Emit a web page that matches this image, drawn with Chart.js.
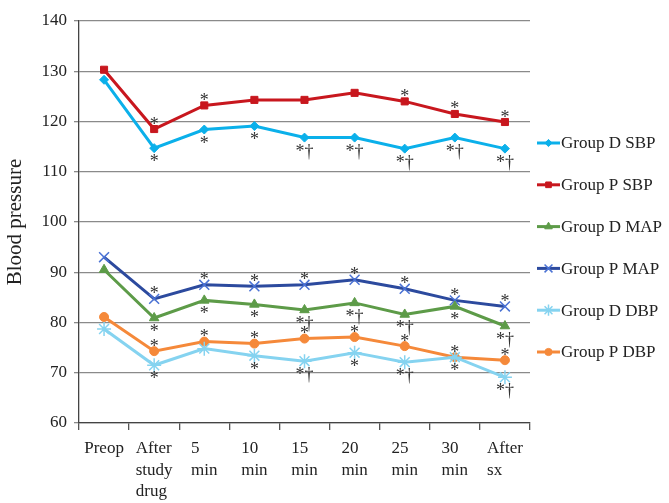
<!DOCTYPE html>
<html>
<head>
<meta charset="utf-8">
<script src="https://cdn.jsdelivr.net/npm/chart.js@4.4.1/dist/chart.umd.min.js"></script>
<style>
    html, body { margin: 0; padding: 0; background: #fff; }
    #wrap { width: 669px; height: 503px; }
</style>
</head>
<body>
<div id="wrap"><canvas id="bpChart"></canvas></div>
<script>
const categories = [
    ["Preop"],
    ["After", "study", "drug"],
    ["5", "min"],
    ["10", "min"],
    ["15", "min"],
    ["20", "min"],
    ["25", "min"],
    ["30", "min"],
    ["After", "sx"],
];

const yTicks = [60, 70, 80, 90, 100, 110, 120, 130, 140];

const groupDSBP = [128.3, 114.7, 118.4, 119.1, 116.8, 116.8, 114.6, 116.8, 114.6];
const groupPSBP = [130.3, 118.5, 123.2, 124.3, 124.3, 125.7, 124.0, 121.5, 119.9];
const groupDMAP = [90.5, 80.9, 84.4, 83.6, 82.5, 83.9, 81.6, 83.2, 79.3];
const groupPMAP = [93.0, 84.7, 87.5, 87.2, 87.5, 88.5, 86.7, 84.4, 83.2];
const groupDDBP = [78.7, 71.5, 74.8, 73.4, 72.3, 74.0, 72.1, 73.1, 69.1];
const groupPDBP = [81.1, 74.3, 76.2, 75.8, 76.8, 77.1, 75.3, 73.1, 72.5];

// significance marks per point
const marksDSBP = ["", "*", "*", "*", "*†", "*†", "*†", "*†", "*†"];
const marksPSBP = ["", "*", "*", "", "", "", "*", "*", "*"];
const marksDMAP = ["", "*", "*", "*", "*†", "*†", "*†", "*", "*†"];
const marksPMAP = ["", "*", "*", "*", "*", "*", "*", "*", "*"];
const marksDDBP = ["", "*", "", "*", "*†", "*", "*†", "*", "*†"];
const marksPDBP = ["", "*", "*", "*", "*", "*", "*", "*", "*"];

const serif = "'Liberation Serif', 'DejaVu Serif', serif";

function series(label, data, marks, side, line, marker, style, radius) {
    return {
        label: label,
        data: data,
        marks: marks,
        markSide: side,
        borderColor: line,
        backgroundColor: marker,
        pointBackgroundColor: marker,
        pointBorderColor: marker,
        pointStyle: style,
        pointRadius: radius,
        pointBorderWidth: style === "crossRot" || style === "star" ? 1.5 : 1,
        borderWidth: 3,
        tension: 0,
        fill: false,
    };
}

const datasets = [
    series("Group D SBP", groupDSBP, marksDSBP, "below", "#0bb0ea", "#0bb0ea", "rectRot", 4.5),
    series("Group P SBP", groupPSBP, marksPSBP, "above", "#c8171e", "#c8171e", "rect", 5),
    series("Group D MAP", groupDMAP, marksDMAP, "below", "#5d9b48", "#5d9b48", "triangle", 5.5),
    series("Group P MAP", groupPMAP, marksPMAP, "above", "#2c4a9e", "#4a72d4", "crossRot", 7),
    series("Group D DBP", groupDDBP, marksDDBP, "below", "#85d3f0", "#85d3f0", "star", 7),
    series("Group P DBP", groupPDBP, marksPDBP, "above", "#f5893a", "#f5893a", "circle", 4.5),
];

// asterisks and daggers next to the points
const marksPlugin = {
    id: "marks",
    afterDatasetsDraw(chart) {
        const ctx = chart.ctx;
        ctx.save();
        ctx.font = "18px " + serif;
        ctx.fillStyle = "#333";
        ctx.textAlign = "center";
        ctx.textBaseline = "alphabetic";
        chart.data.datasets.forEach((ds, i) => {
            const meta = chart.getDatasetMeta(i);
            ds.marks.forEach((m, j) => {
                if (!m) return;
                const pt = meta.data[j];
                const y = ds.markSide === "above" ? pt.y + 0.5 : pt.y + 19;
                ctx.fillText(m, pt.x, y);
            });
        });
        ctx.restore();
    },
};

// x labels: left-aligned lines inside a centred block
const xLabelPlugin = {
    id: "xLabels",
    afterDraw(chart) {
        const ctx = chart.ctx;
        const x = chart.scales.x;
        ctx.save();
        ctx.font = "17px " + serif;
        ctx.fillStyle = "#222";
        ctx.textAlign = "left";
        ctx.textBaseline = "alphabetic";
        categories.forEach((lines, i) => {
            const cx = x.getPixelForValue(i);
            const w = Math.max(...lines.map((l) => ctx.measureText(l).width));
            lines.forEach((l, k) => {
                ctx.fillText(l, cx - w / 2, chart.chartArea.bottom + 30 + k * 21.5);
            });
        });
        ctx.restore();
    },
};

// legend on the right: short line with marker, then the label
const legendPlugin = {
    id: "sideLegend",
    afterDraw(chart) {
        const ctx = chart.ctx;
        ctx.save();
        ctx.font = "17px " + serif;
        ctx.textBaseline = "middle";
        ctx.textAlign = "left";
        chart.data.datasets.forEach((ds, i) => {
            const y = 143 + i * 41.8;
            ctx.strokeStyle = ds.borderColor;
            ctx.lineWidth = 3;
            ctx.beginPath();
            ctx.moveTo(537, y);
            ctx.lineTo(560, y);
            ctx.stroke();
            if (Chart.helpers && Chart.helpers.drawPoint) {
                ctx.fillStyle = ds.pointBackgroundColor;
                ctx.strokeStyle = ds.pointBorderColor;
                ctx.lineWidth = ds.pointBorderWidth;
                Chart.helpers.drawPoint(ctx, {
                    pointStyle: ds.pointStyle,
                    radius: ds.pointRadius * 0.8,
                    rotation: 0,
                    borderWidth: ds.pointBorderWidth,
                }, 548.5, y);
            }
            ctx.fillStyle = "#222";
            ctx.fillText(ds.label, 561, y + 1);
        });
        ctx.restore();
    },
};

const ctx = document.getElementById("bpChart").getContext("2d");

new Chart(ctx, {
    type: "line",
    data: {
        labels: categories,
        datasets: datasets,
    },
    options: {
        responsive: true,
        maintainAspectRatio: false,
        animation: false,
        layout: { padding: { top: 21, right: 139, left: 0, bottom: 0 } },
        plugins: {
            legend: { display: false },
            tooltip: { enabled: false },
        },
        scales: {
            x: {
                offset: true,
                afterFit: (scale) => { scale.height = 80; },
                grid: {
                    offset: true,
                    drawOnChartArea: false,
                    drawTicks: true,
                    tickLength: 7,
                    color: "#555",
                    lineWidth: 1.3,
                },
                border: { color: "#444", width: 1.3 },
                ticks: { color: "rgba(0,0,0,0)", font: { family: serif, size: 17 } },
            },
            y: {
                min: 60,
                max: 140,
                afterFit: (scale) => { scale.width = 79; },
                afterBuildTicks: (scale) => {
                    scale.ticks = yTicks.map((v) => ({ value: v }));
                },
                grid: {
                    color: "#8a8a8a",
                    lineWidth: 1.3,
                    tickLength: 5,
                },
                border: { color: "#444", width: 1.3 },
                ticks: {
                    color: "#222",
                    padding: 7,
                    font: { family: serif, size: 17 },
                },
                title: {
                    display: true,
                    text: "Blood pressure",
                    color: "#222",
                    font: { family: serif, size: 21 },
                    padding: { top: 3, bottom: 0 },
                },
            },
        },
    },
    plugins: [marksPlugin, xLabelPlugin, legendPlugin],
});
</script>
</body>
</html>
